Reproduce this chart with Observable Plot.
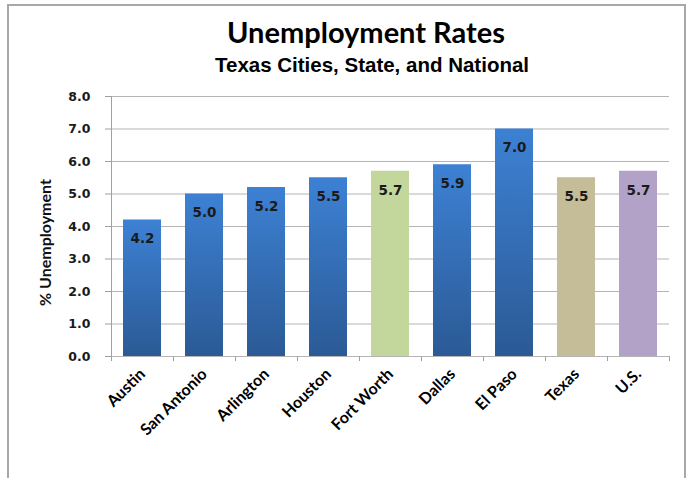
<!DOCTYPE html>
<html><head><meta charset="utf-8">
<script src="https://cdn.jsdelivr.net/npm/d3@7"></script>
<script src="https://cdn.jsdelivr.net/npm/@observablehq/plot@0.6"></script>
<style>
body{margin:0;background:#fff;}
#wrap{position:relative;width:686px;height:478px;overflow:hidden;background:#fff;}
#frame{position:absolute;left:7px;top:4px;width:679px;height:520px;border:2px solid #a8a8a8;border-bottom:none;box-sizing:border-box;}
#title{position:absolute;top:17px;left:366px;transform:translateX(-50%);font-family:Lato,sans-serif;font-weight:bold;font-size:29px;line-height:29px;white-space:nowrap;color:#000;}
#subtitle{position:absolute;top:55px;left:372px;transform:translateX(-50%);font-family:"Liberation Sans",Arial,sans-serif;font-weight:bold;font-size:20.5px;line-height:20.5px;white-space:nowrap;color:#000;}
#chart{position:absolute;left:0;top:0;}
</style></head>
<body>
<div id="wrap">
  <div id="frame"></div>
  <div id="chart"></div>
  <div id="title">Unemployment Rates</div>
  <div id="subtitle">Texas Cities, State, and National</div>
</div>
<script>
const categories = ["Austin","San Antonio","Arlington","Houston","Fort Worth","Dallas","El Paso","Texas","U.S."];
const rates = [4.2, 5.0, 5.2, 5.5, 5.7, 5.9, 7.0, 5.5, 5.7];
const kinds = ["city","city","city","city","highlight","city","city","state","nation"];
const yTicks = [0,1,2,3,4,5,6,7,8];
const yLabel = "% Unemployment";

const kindOrder = ["city","highlight","state","nation"];
const kindColors = ["url(#blueGrad)","#c3d69b","#c4bd97","#b3a2c7"];

const data = categories.map((c,i)=>({category:c, rate:rates[i], kind:kinds[i]}));

const chart = Plot.plot({
  width:686, height:478,
  marginLeft:111, marginRight:17, marginTop:96, marginBottom:122,
  style:{fontFamily:"DejaVu Sans", fontWeight:"bold", fontSize:"12.5px", background:"transparent", color:"#1a1a1a", overflow:"visible"},
  x:{domain:categories, paddingInner:0.38, paddingOuter:0.19, label:null, tickSize:0, tickRotate:-45, tickPadding:15},
  y:{domain:[0,8], ticks:yTicks, tickFormat:d3.format(".1f"), tickSize:6, tickPadding:15, label:null},
  color:{domain:kindOrder, range:kindColors},
  marks:[
    Plot.ruleY(yTicks, {stroke:"#b4b4b4", strokeWidth:1}),
    Plot.barY(data, {x:"category", y:"rate", fill:"kind"}),
    Plot.text(data, {x:"category", y:"rate", text:d=>d.rate.toFixed(1), dy:19, fontWeight:"bold", fontSize:13.5, fontFamily:"DejaVu Sans", fill:"#1a1a1a"}),
    Plot.text([yLabel], {text:d=>d, frameAnchor:"left", textAnchor:"middle", rotate:-90, dx:-66, dy:16, fontFamily:"Lato", fontWeight:"bold", fontSize:16, fill:"#111"})
  ]
});

const svg = d3.select(chart);
const grad = svg.insert("defs", ":first-child").append("linearGradient")
  .attr("id","blueGrad").attr("x1",0).attr("y1",0).attr("x2",0).attr("y2",1);
grad.append("stop").attr("offset","0%").attr("stop-color","#3d81d4");
grad.append("stop").attr("offset","100%").attr("stop-color","#2b5a95");

// axis styling
svg.selectAll('g[aria-label="y-axis tick"]').attr("stroke","#a0a0a0");
svg.selectAll('g[aria-label="x-axis tick label"] text, g[aria-label="x-axis tick label"]')
  .attr("font-family","Lato").attr("font-size","16px").attr("font-weight","bold").attr("fill","#000");

// y axis line and category boundary ticks from the Plot scales
const xs = chart.scale("x"), ys = chart.scale("y");
const gap = xs.step - xs.bandwidth;
const bounds = categories.map(c => xs.apply(c) - gap/2);
bounds.push(xs.apply(categories[categories.length-1]) + xs.bandwidth + gap/2);
const y0 = ys.apply(0), yTop = ys.apply(8);
const g = svg.append("g").attr("stroke","#a0a0a0").attr("stroke-width",1);
g.append("line").attr("x1",bounds[0]+0.5).attr("x2",bounds[0]+0.5).attr("y1",yTop).attr("y2",y0+5);
bounds.forEach(b => g.append("line").attr("x1",b+0.5).attr("x2",b+0.5).attr("y1",y0).attr("y2",y0+5));

document.getElementById("chart").appendChild(chart);
</script>
</body></html>
